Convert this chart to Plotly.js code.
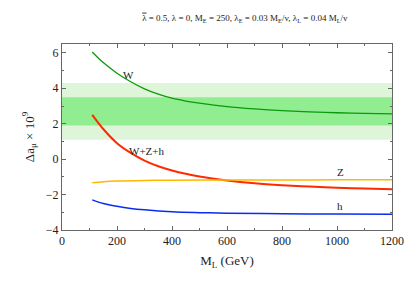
<!DOCTYPE html>
<html><head><meta charset="utf-8">
<script src="https://cdn.plot.ly/plotly-3.0.1.min.js"></script>
<style>html,body{margin:0;padding:0;background:#fff}#plot{width:415px;height:291px}</style>
</head><body><div id="plot"></div>
<script>
// Data
const mW   = [110,150,200,250,300,350,400,450,500,600,700,800,900,1000,1100,1200];
const W    = [6.05,5.45,4.85,4.37,3.97,3.67,3.44,3.28,3.16,2.97,2.84,2.74,2.67,2.62,2.58,2.55];
const mR   = [110,150,200,250,300,350,400,450,500,600,700,800,900,1000,1100,1200];
const WZh  = [2.5,1.7,0.9,0.35,-0.08,-0.4,-0.64,-0.83,-0.98,-1.2,-1.36,-1.47,-1.55,-1.61,-1.66,-1.70];
const mZ   = [110,150,200,300,400,600,800,1000,1200];
const Z    = [-1.33,-1.27,-1.23,-1.2,-1.19,-1.18,-1.175,-1.17,-1.165];
const mH   = [110,150,200,250,300,400,500,600,800,1000,1200];
const H    = [-2.3,-2.5,-2.66,-2.78,-2.86,-2.97,-3.02,-3.05,-3.08,-3.1,-3.11];
const band2sigma = [1.1, 4.3];
const band1sigma = [1.9, 3.5];
const curveLabels = ["W","W+Z+h","Z","h"];
const labelX = [240, 308, 1011, 1011];
const labelY = [4.76, 0.48, -0.71, -2.64];

const serif = "Liberation Serif, Times New Roman, serif";
const traces = [
  {x:mW, y:W, mode:"lines", line:{color:"#0a9a0a", width:1.3, shape:"spline", smoothing:1}},
  {x:mR, y:WZh, mode:"lines", line:{color:"#ff2a00", width:2, shape:"spline", smoothing:1}},
  {x:mZ, y:Z, mode:"lines", line:{color:"#ffb800", width:1.5, shape:"spline", smoothing:1}},
  {x:mH, y:H, mode:"lines", line:{color:"#0a2cf0", width:1.5, shape:"spline", smoothing:1}}
];
const shapes = [
  {type:"rect", xref:"paper", yref:"y", x0:0, x1:1, y0:band2sigma[0], y1:band2sigma[1], fillcolor:"#dff5d9", line:{width:0}, layer:"below"},
  {type:"rect", xref:"paper", yref:"y", x0:0, x1:1, y0:band1sigma[0], y1:band1sigma[1], fillcolor:"#90ee90", line:{width:0}, layer:"below"}
];
const annotations = curveLabels.map((t,i)=>({x:labelX[i], y:labelY[i], text:t, showarrow:false, font:{family:serif, size:11, color:"#222"}}));
const axBase = {showline:true, linecolor:"#666", linewidth:1, mirror:"ticks", ticks:"inside", tickcolor:"#666", ticklen:4, zeroline:false, showgrid:false, tickfont:{family:serif, size:12, color:"#222"}};
const layout = {
  width:415, height:291, margin:{l:62, r:23, t:44, b:61, autoexpand:false},
  paper_bgcolor:"#fff", plot_bgcolor:"#fff", showlegend:false,
  title:{text:"<span style=\"text-decoration:overline\">λ</span> = 0.5, λ = 0, M<sub>E</sub> = 250, λ<sub>E</sub> = 0.03 M<sub>E</sub>/v, λ<sub>L</sub> = 0.04 M<sub>L</sub>/v", font:{family:serif, size:9, color:"#222"}, x:0.59, xanchor:"center", y:0.94, yanchor:"middle"},
  xaxis:Object.assign({}, axBase, {range:[0,1200], dtick:200, tick0:0, automargin:true, minor:{dtick:100, ticks:"inside", ticklen:2, tickcolor:"#666"}, title:{text:"M<sub>L</sub> (GeV)", font:{family:serif, size:13, color:"#222"}, standoff:8}}),
  yaxis:Object.assign({}, axBase, {range:[-4,6.5], dtick:2, tick0:0, automargin:true, minor:{dtick:1, ticks:"inside", ticklen:2, tickcolor:"#666"}, title:{text:"Δa<sub>μ</sub> × 10<sup>9</sup>", font:{family:serif, size:13, color:"#222"}, standoff:8}}),
  shapes:shapes, annotations:annotations
};
Plotly.newPlot("plot", traces, layout, {staticPlot:true, displayModeBar:false});
</script></body></html>
